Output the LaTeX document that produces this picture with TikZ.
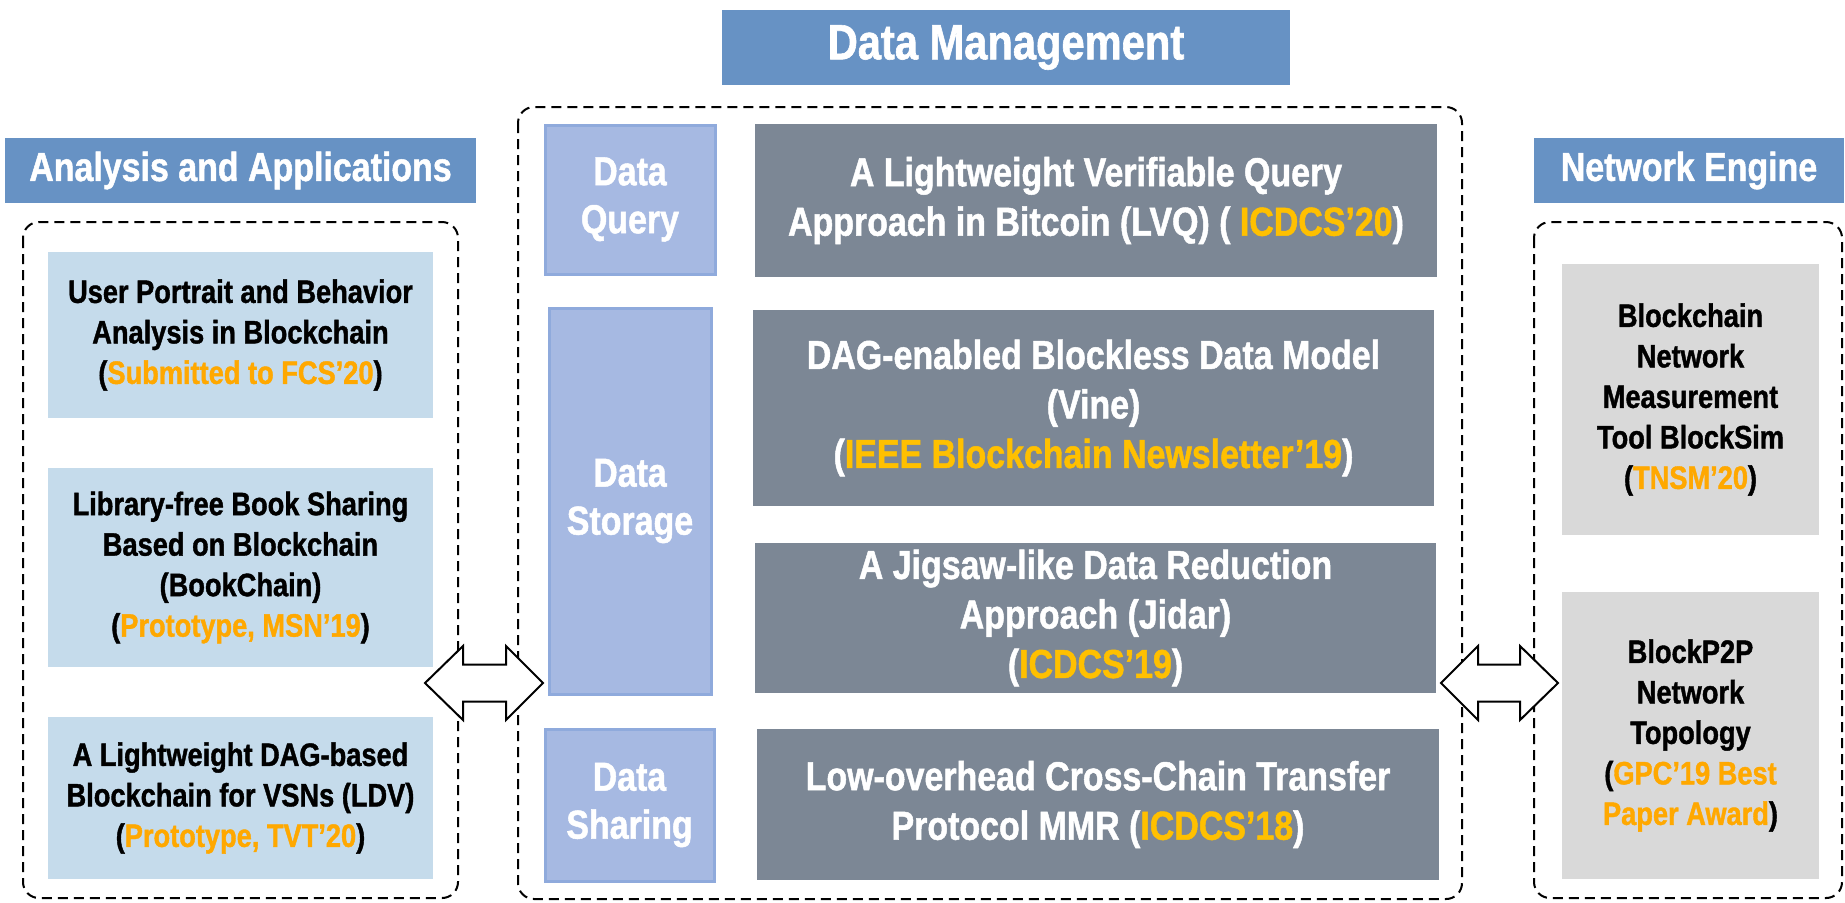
\documentclass[tikz,border=0pt]{standalone}
\usepackage{fontspec}
\setmainfont{Liberation Sans}[FakeStretch=0.84, BoldFeatures={FakeBold=1.2}]
\usetikzlibrary{positioning}
\definecolor{hdrblue}{RGB}{103,146,196}
\definecolor{lblue}{RGB}{197,219,235}
\definecolor{qfill}{RGB}{166,185,226}
\definecolor{qborder}{RGB}{143,170,220}
\definecolor{gfill}{RGB}{124,135,149}
\definecolor{rgray}{RGB}{217,217,217}
\definecolor{orng}{RGB}{255,168,0}
\definecolor{ylw}{RGB}{255,192,0}
\tikzset{
  hdr/.style={fill=hdrblue, text=white, inner sep=0pt, align=center,
    font=\fontsize{20.2pt}{24pt}\selectfont\bfseries},
  dashbox/.style={draw=black, line width=1pt, dash pattern=on 5pt off 3pt, rounded corners=8pt},
  leftbox/.style={fill=lblue, inner sep=0pt, align=center, text=black,
    font=\fontsize{16.2pt}{20.25pt}\selectfont\bfseries},
  rightbox/.style={fill=rgray, inner sep=0pt, align=center, text=black,
    font=\fontsize{16.2pt}{20.25pt}\selectfont\bfseries},
  labelbox/.style={fill=qfill, draw=qborder, line width=1.5pt, inner sep=0pt, align=center, text=white,
    font=\fontsize{20.2pt}{24pt}\selectfont\bfseries},
  graybox/.style={fill=gfill, inner sep=0pt, align=center, text=white,
    font=\fontsize{20.2pt}{24.75pt}\selectfont\bfseries},
  blockarrow/.style={draw=black, fill=white, line width=1pt, line join=miter}
}
\begin{document}
\begin{tikzpicture}[x=0.5pt,y=-0.5pt]
\useasboundingbox (0,0) rectangle (1845,902);
% headers
\node[hdr, minimum width=235.5pt, minimum height=32.5pt] (hL) at (240.5,170.5) {Analysis and Applications};
\node[hdr, minimum width=284pt, minimum height=37.5pt, font=\fontsize{24.8pt}{28pt}\selectfont\bfseries] (hM) at (1006,47.5) {Data Management};
\node[hdr, minimum width=155pt, minimum height=32.5pt] (hR) at (1689,170.5) {Network Engine};
% dashed containers
\draw[dashbox] (23,222) rectangle (458,898);
\draw[dashbox] (518,107) rectangle (1462,899);
\draw[dashbox] (1534,222) rectangle (1842,898);
% left boxes
\node[leftbox, minimum width=192.5pt, minimum height=83pt] (L1) at (240.5,335)
  {User Portrait and Behavior\\Analysis in Blockchain\\(\textcolor{orng}{Submitted to FCS’20})};
\node[leftbox, minimum width=192.5pt, minimum height=99.5pt] (L2) at (240.5,567.5)
  {Library-free Book Sharing\\Based on Blockchain\\(BookChain)\\(\textcolor{orng}{Prototype, MSN’19})};
\node[leftbox, minimum width=192.5pt, minimum height=81pt] (L3) at (240.5,798)
  {A Lightweight DAG-based\\Blockchain for VSNs (LDV)\\(\textcolor{orng}{Prototype, TVT’20})};
% middle labels
\node[labelbox, minimum width=85pt, minimum height=74.5pt] (Q) at (630,199.5) {Data\\Query};
\node[labelbox, minimum width=81pt, minimum height=193pt] (S) at (630,501) {Data\\Storage};
\node[labelbox, minimum width=84.5pt, minimum height=76pt] (Sh) at (629.5,805) {Data\\Sharing};
% gray boxes
\node[graybox, minimum width=341pt, minimum height=76.5pt] (G1) at (1096,200.5)
  {A Lightweight Verifiable Query\\Approach in Bitcoin (LVQ) ( \textcolor{ylw}{ICDCS’20})};
\node[graybox, minimum width=340.5pt, minimum height=98pt] (G2) at (1093.5,408)
  {DAG-enabled Blockless Data Model\\(Vine)\\(\textcolor{ylw}{IEEE Blockchain Newsletter’19})};
\node[graybox, minimum width=340.5pt, minimum height=75pt] (G3) at (1095.5,618)
  {A Jigsaw-like Data Reduction\\Approach (Jidar)\\(\textcolor{ylw}{ICDCS’19})};
\node[graybox, minimum width=341pt, minimum height=75.5pt] (G4) at (1098,804.5)
  {Low-overhead Cross-Chain Transfer\\Protocol MMR (\textcolor{ylw}{ICDCS’18})};
% right boxes
\node[rightbox, minimum width=128.5pt, minimum height=135.5pt] (R1) at (1690.5,399.5)
  {Blockchain\\Network\\Measurement\\Tool BlockSim\\(\textcolor{orng}{TNSM’20})};
\node[rightbox, minimum width=128.5pt, minimum height=143.5pt] (R2) at (1690.5,735.5)
  {BlockP2P\\Network\\Topology\\(\textcolor{orng}{GPC’19 Best}\\\textcolor{orng}{Paper Award})};
% double block arrows
\coordinate (la) at (484,683);
\coordinate (ra) at (1499.5,683);
\draw[blockarrow] (la) ++(-59,0) -- ++(38,-37) -- ++(0,18.5) -- ++(43,0) -- ++(0,-18.5)
  -- ++(37,37) -- ++(-37,37) -- ++(0,-18.5) -- ++(-43,0) -- ++(0,18.5) -- cycle;
\draw[blockarrow] (ra) ++(-58.5,0) -- ++(37,-37) -- ++(0,18.5) -- ++(42,0) -- ++(0,-18.5)
  -- ++(38,37) -- ++(-38,37) -- ++(0,-18.5) -- ++(-42,0) -- ++(0,18.5) -- cycle;
\end{tikzpicture}
\end{document}
